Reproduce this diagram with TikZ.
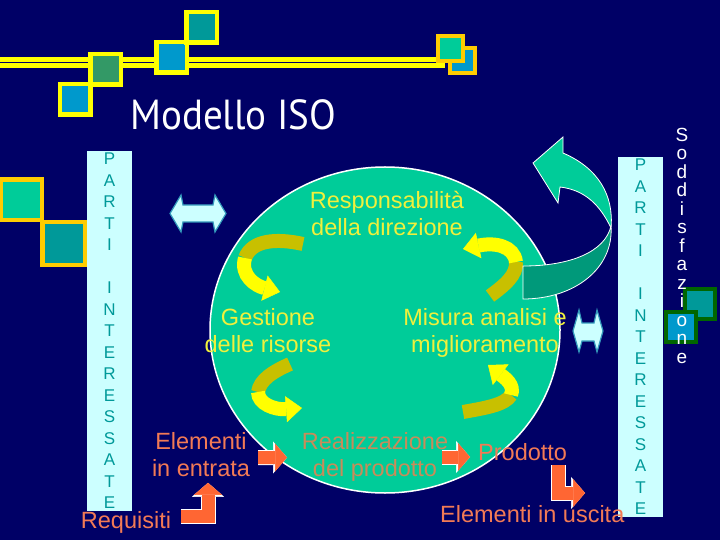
\documentclass[tikz,border=0pt]{standalone}
\usepackage{fontspec}
\setmainfont{Liberation Sans}
\newfontfamily\titolofont[FakeStretch=0.93]{PT Sans}
\usetikzlibrary{arrows.meta,positioning,shapes.geometric}
\definecolor{notte}{HTML}{000066}
\definecolor{giallo}{HTML}{FFFF00}
\definecolor{oro}{HTML}{FFCC00}
\definecolor{azzurro}{HTML}{0099CC}
\definecolor{verde}{HTML}{339966}
\definecolor{ottanio}{HTML}{009999}
\definecolor{menta}{HTML}{00CC99}
\definecolor{mentascuro}{HTML}{00997A}
\definecolor{ghiaccio}{HTML}{CCFFFF}
\definecolor{bosco}{HTML}{006600}
\definecolor{limone}{HTML}{F0F03C}
\definecolor{oliva}{HTML}{C8C000}
\definecolor{salmone}{HTML}{F27A55}
\definecolor{mattone}{HTML}{C88C5A}
\definecolor{arancio}{HTML}{FF6633}
\definecolor{bordoblu}{HTML}{3399BB}
\tikzset{
  quadro/.style={
    rectangle, draw=#1, line width=4.5bp,
    minimum size=30.5bp, inner sep=0pt
  },
  quadro/.default=giallo,
  barra/.style={
    rectangle, fill=ghiaccio, text=ottanio,
    minimum width=45bp, minimum height=360bp,
    inner sep=0pt, align=center,
    font=\fontsize{17bp}{21.5bp}\selectfont
  },
  testo/.style={
    inner sep=0pt, align=center, text=#1,
    font=\fontsize{23.5bp}{27bp}\selectfont
  },
  testo/.default=salmone,
  doppia/.style={fill=ghiaccio, draw=bordoblu, line width=1.2bp},
  codaoliva/.style={draw=oliva, line width=14bp},
  giroarrow/.style={
    draw=giallo, line width=14bp,
    -{Triangle[width=26bp,length=16bp,line width=0.5bp]}
  },
  blockarrow/.style={
    draw=arancio, line width=13bp,
    -{Triangle[width=28bp,length=12bp,line width=0.5bp]},
    preaction={draw=white, line width=15bp,
      -{Triangle[width=32bp,length=14bp,line width=0.5bp]}}
  },
}

\begin{document}
\begin{tikzpicture}[x=1bp, y=-1bp]
  \useasboundingbox (0,0) rectangle (720,540);
  \clip (0,0) rectangle (720,540);
  \fill[notte] (0,0) rectangle (720,540);

  % Top band and squares
  \draw[giallo, line width=5bp, double=notte, double distance=1.2bp] (-5,62.5) -- (445,62.5);
  \node[quadro, fill=azzurro] (qa) at (75,99.5) {};
  \node[quadro, fill=verde] (qb) at (105.5,69.5) {};
  \node[quadro, fill=azzurro] (qc) at (171.5,57.5) {};
  \node[quadro, fill=ottanio] (qd) at (201.5,27.5) {};
  \node[quadro=oro, fill=azzurro, line width=4bp, minimum size=25bp] (qf) at (462.5,60.5) {};
  \node[quadro=oro, fill=menta, line width=4bp, minimum size=25bp] (qe) at (450.5,48.5) {};
  \node[anchor=base west, inner sep=0pt, text=white,
        font=\titolofont\fontsize{42bp}{42bp}\selectfont] (titolo) at (130,130) {Modello ISO};

  % Left squares and bar
  \node[quadro=oro, fill=menta, minimum size=40.5bp] (qg) at (21.5,200) {};
  \node[quadro=oro, fill=ottanio, minimum size=42.5bp] (qh) at (63.5,243.5) {};
  \node[barra] (bsx) at (109.5,331) {P\\A\\R\\T\\I\\~\\I\\N\\T\\E\\R\\E\\S\\S\\A\\T\\E};

  % Cycle
  \node[ellipse, fill=menta, draw=white, line width=1.5bp,
        minimum width=350bp, minimum height=326bp, inner sep=0pt] (ciclo) at (385,330) {};
  \draw[codaoliva] (303,244) .. controls (276,238) and (252,240) .. (245,258);
  \draw[giroarrow] (245,258) .. controls (240,276) and (256,286) .. (280,292);
  \draw[codaoliva] (290,364) .. controls (272,372) and (260,380) .. (258,392);
  \draw[giroarrow] (258,392) .. controls (258,404) and (275,410) .. (302,408);
  \draw[codaoliva] (463,412) .. controls (485,408) and (505,405) .. (511,395);
  \draw[giroarrow] (511,395) .. controls (515,385) and (505,378) .. (488,365);
  \draw[codaoliva] (490,296) .. controls (505,285) and (517,275) .. (516,262);
  \draw[giroarrow] (516,262) .. controls (514,246) and (495,242) .. (463,249);

  % Return arrow
  \filldraw[fill=menta, draw=white, line width=0.8bp] (533,163) -- (563,137) -- (563,153)
    .. controls (598,168) and (614,195) .. (611,228)
    .. controls (600,205) and (585,190) .. (560,187) -- (558,203) -- cycle;
  \filldraw[fill=mentascuro, draw=white, line width=0.8bp] (611,226)
    .. controls (605,252) and (570,266) .. (523,266) -- (523,299)
    .. controls (575,299) and (614,268) .. (611,226) -- cycle;

  % Exchange arrows
  \filldraw[doppia] (170,213.5) -- (181,195) -- (183,205) -- (213,205) -- (215,195) -- (226,213.5)
    -- (215,232) -- (213,222) -- (183,222) -- (181,232) -- cycle;
  \filldraw[doppia] (573,331) -- (579,310) -- (582,323) -- (594,323) -- (597,310) -- (603,331)
    -- (597,352) -- (594,341) -- (582,341) -- (579,352) -- cycle;

  % Labels
  \node[testo=limone] (resp) at (387,213.5) {Responsabilità\\della direzione};
  \node[testo=limone] (gest) at (268,330.5) {Gestione\\delle risorse};
  \node[testo=limone] (misura) at (485,333) {Misura analisi e\\miglioramento};
  \node[testo=mattone] (realiz) at (375,457) {Realizzazione\\del prodotto};
  \node[testo] (entrata) at (201,454.5) {Elementi\\in entrata};
  \node[testo, anchor=base] (requisiti) at (126,528) {Requisiti};
  \node[testo, anchor=base west] (prodotto) at (478,460) {Prodotto};

  % Flow arrows
  \coordinate (cin) at (287,457.5);
  \coordinate (cout) at (585,493);
  \draw[blockarrow] ([xshift=8bp,yshift=-3bp]entrata.east) -- (cin);
  \draw[blockarrow] ([xshift=-6bp]realiz.east) -- ([xshift=-8bp]realiz.east -| prodotto.west);
  \draw[blockarrow] ([xshift=10bp,yshift=5.5bp]requisiti.east) -| ([xshift=7bp,yshift=-6bp]entrata.south);
  \draw[blockarrow] ([xshift=-9bp,yshift=-5bp]prodotto.south east) |- (cout);

  % Right side
  \node[barra] (bdx) at (640.5,337) {P\\A\\R\\T\\I\\~\\I\\N\\T\\E\\R\\E\\S\\S\\A\\T\\E};
  \node[quadro=bosco, fill=ottanio, line width=4bp, minimum size=30bp] (qi) at (700,303.5) {};
  \node[quadro=bosco, fill=azzurro, line width=4bp, minimum size=30bp] (ql) at (681,327) {};
  \node[anchor=north, inner sep=0pt, align=center, text=white,
        font=\fontsize{19bp}{18.5bp}\selectfont] (soddisf) at (682,128)
        {S\\o\\d\\d\\i\\s\\f\\a\\z\\i\\o\\n\\e};
  \node[testo, anchor=base west] (uscita) at (440,522) {Elementi in uscita};
\end{tikzpicture}
\end{document}
